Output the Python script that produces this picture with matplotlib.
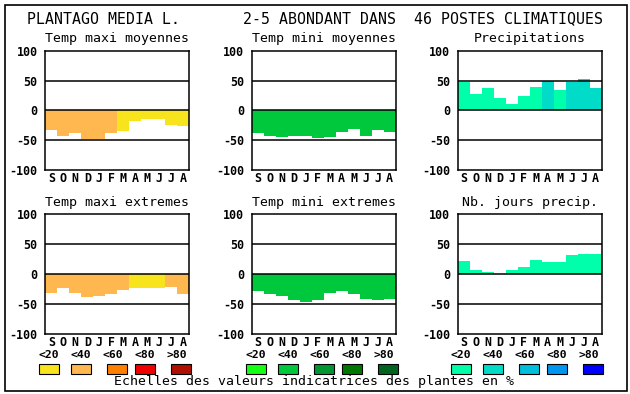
import matplotlib
matplotlib.use("Agg")
import matplotlib.pyplot as plt
from matplotlib.patches import Rectangle

# --- donnees ---
months = ["S", "O", "N", "D", "J", "F", "M", "A", "M", "J", "J", "A"]
yticks = [100, 50, 0, -50, -100]
class_labels = ["<20", "<40", "<60", "<80", ">80"]

tmax_moy = [-33, -42, -37, -48, -48, -38, -35, -17, -15, -15, -25, -26]
tmax_moy_cls = [1, 1, 1, 1, 1, 1, 0, 0, 0, 0, 0, 0]
tmin_moy = [-38, -43, -44, -43, -43, -46, -44, -36, -31, -43, -33, -36]
tmin_moy_cls = [1] * 12
precip = [47, 27, 37, 20, 10, 25, 40, 49, 35, 47, 53, 37]
precip_cls = [0, 0, 0, 0, 0, 0, 0, 1, 0, 1, 1, 1]
tmax_ext = [-31, -24, -31, -38, -36, -34, -26, -24, -24, -23, -21, -33]
tmax_ext_cls = [1, 1, 1, 1, 1, 1, 1, 0, 0, 0, 1, 1]
tmin_ext = [-28, -33, -36, -43, -46, -43, -31, -28, -34, -41, -43, -41]
tmin_ext_cls = [1] * 12
jours = [22, 7, 4, 0, 7, 11, 24, 21, 21, 32, 34, 34]
jours_cls = [0] * 12

# palettes par echelle (5 classes)
warm = ["#F8E41C", "#FFB84F", "#FF8000", "#F00000", "#B01000"]
green = ["#14FF14", "#00C83C", "#009632", "#007800", "#00641E"]
blue = ["#00FFAA", "#00DCC8", "#00BEDC", "#0096F0", "#0000FF"]

W, H = 630, 394


def px_rect(left, top, w, h):
    return [left / W, 1 - (top + h) / H, w / W, h / H]


def fx(x):
    return x / W


def fy(y):
    return 1 - y / H


def draw_panel(fig, left, top, title, values, classes, palette):
    ax = fig.add_axes(px_rect(left, top, 144, 119.5))
    colors = [palette[c] for c in classes]
    ax.bar(range(len(months)), values, width=1.0, color=colors, linewidth=0, zorder=1)
    for y in [50, 0, -50]:
        ax.axhline(y, color="black", lw=1.1, zorder=3)
    ax.set_xlim(-0.5, len(months) - 0.5)
    ax.set_ylim(-100, 100)
    ax.set_yticks(yticks)
    ax.set_yticklabels([str(v) for v in yticks], family="DejaVu Sans Mono",
                       fontweight="bold", fontsize=8.4)
    ax.set_xticks(range(len(months)))
    ax.set_xticklabels(months, family="DejaVu Sans Mono", fontweight="bold", fontsize=8.4)
    ax.tick_params(length=0)
    ax.tick_params(axis="y", pad=5.5)
    ax.tick_params(axis="x", pad=1.5)
    for s in ax.spines.values():
        s.set_linewidth(1.1)
    fig.text(fx(left + 72), fy(top - 12), title, ha="center", va="center",
             family="DejaVu Sans Mono", fontsize=9.5)
    return ax


def draw_legend(fig, start, palette):
    box_off = [0, 32, 68, 96, 132]
    lab_off = [10, 42, 74, 106, 138]
    for i in range(5):
        fig.text(fx(start + lab_off[i]), fy(354.5), class_labels[i], ha="center", va="center",
                 family="DejaVu Sans Mono", fontweight="bold", fontsize=8.2)
        fig.patches.append(Rectangle((fx(start + box_off[i]), fy(373.5)), 20 / W, 9.5 / H,
                                     transform=fig.transFigure, facecolor=palette[i],
                                     edgecolor="black", lw=0.8))


def main():
    fig = plt.figure(figsize=(6.3, 3.94), dpi=100)

    # cadre general
    fig.patches.append(Rectangle((fx(4.5), fy(390.5)), 622 / W, 386 / H, transform=fig.transFigure,
                                 fill=False, edgecolor="black", lw=1.2))

    fig.text(fx(26.5), fy(18.5),
             "PLANTAGO MEDIA L.       2-5 ABONDANT DANS  46 POSTES CLIMATIQUES",
             ha="left", va="center", family="DejaVu Sans Mono", fontsize=10.75)

    lefts = [45.3, 251.7, 457.7]
    draw_panel(fig, lefts[0], 50.7, "Temp maxi moyennes", tmax_moy, tmax_moy_cls, warm)
    draw_panel(fig, lefts[1], 50.7, "Temp mini moyennes", tmin_moy, tmin_moy_cls, green)
    draw_panel(fig, lefts[2], 50.7, "Precipitations", precip, precip_cls, blue)
    draw_panel(fig, lefts[0], 214.3, "Temp maxi extremes", tmax_ext, tmax_ext_cls, warm)
    draw_panel(fig, lefts[1], 214.3, "Temp mini extremes", tmin_ext, tmin_ext_cls, green)
    draw_panel(fig, lefts[2], 214.3, "Nb. jours precip.", jours, jours_cls, blue)

    draw_legend(fig, 39, warm)
    draw_legend(fig, 245.7, green)
    draw_legend(fig, 451, blue)

    fig.text(fx(314.5), fy(382), "Echelles des valeurs indicatrices des plantes en %",
             ha="center", va="center", family="DejaVu Sans Mono", fontsize=9.5)

    fig.savefig("out.png", dpi=100)


if __name__ == "__main__":
    main()
